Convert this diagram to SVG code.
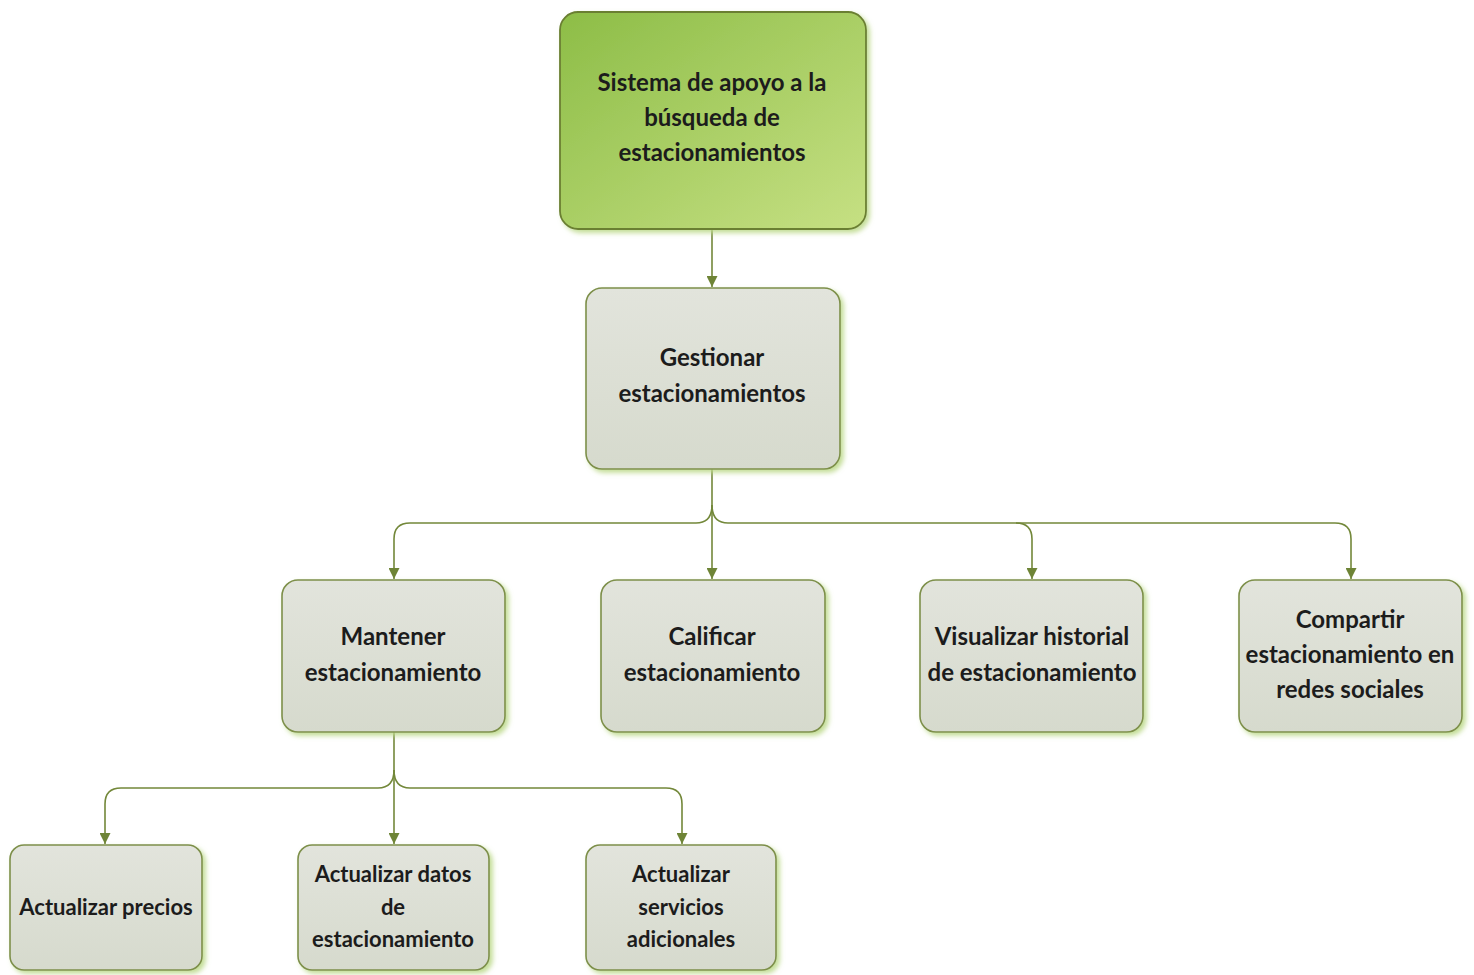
<svg xmlns="http://www.w3.org/2000/svg" width="1474" height="975" viewBox="0 0 1474 975">
  <defs>
    <linearGradient id="rootFill" x1="0" y1="0" x2="1" y2="1">
      <stop offset="0" stop-color="#8dbd47"/>
      <stop offset="1" stop-color="#c6e083"/>
    </linearGradient>
    <linearGradient id="nodeFill" x1="0" y1="0" x2="0" y2="1">
      <stop offset="0" stop-color="#e2e4dc"/>
      <stop offset="1" stop-color="#d6dacd"/>
    </linearGradient>
    <filter id="glow" x="-10%" y="-10%" width="125%" height="125%">
      <feGaussianBlur in="SourceAlpha" stdDeviation="2.5"/>
      <feOffset dx="3" dy="3" result="b"/>
      <feFlood flood-color="#bcd98a" flood-opacity="0.9"/>
      <feComposite in2="b" operator="in"/>
      <feMerge>
        <feMergeNode/>
        <feMergeNode in="SourceGraphic"/>
      </feMerge>
    </filter>
    <marker id="arrow" viewBox="0 0 10 10" refX="10" refY="5" markerWidth="11" markerHeight="11" markerUnits="userSpaceOnUse" orient="auto">
      <path d="M0,0 L10,5 L0,10 Z" fill="#6e8436"/>
    </marker>
  </defs>
  <style>
    .box { fill: url(#nodeFill); stroke: #7d8f4a; stroke-width: 1.6; filter: url(#glow); }
    .root { fill: url(#rootFill); stroke: #6b7f32; stroke-width: 1.8; filter: url(#glow); }
    .lbl { font-family: Lato, "Liberation Sans", sans-serif; font-size: 24px; font-weight: 700; fill: #1c1c1c; text-anchor: middle; }
    .sm { font-size: 22px; }
    .edge { fill: none; stroke: #73883a; stroke-width: 1.6; }
  </style>

  <rect width="1474" height="975" fill="#ffffff"/>

  <!-- connectors -->
  <g id="connectors">
    <path class="edge" marker-end="url(#arrow)" d="M712,229 V287"/>
    <path class="edge" marker-end="url(#arrow)" d="M712,469 V579"/>
    <path class="edge" marker-end="url(#arrow)" d="M712,505 Q712,523 696,523 H410 Q394,523 394,539 V579"/>
    <path class="edge" marker-end="url(#arrow)" d="M712,505 Q712,523 728,523 H1016 Q1032,523 1032,539 V579"/>
    <path class="edge" marker-end="url(#arrow)" d="M1016,523 H1335 Q1351,523 1351,539 V579"/>
    <path class="edge" marker-end="url(#arrow)" d="M394,732 V844"/>
    <path class="edge" marker-end="url(#arrow)" d="M394,770 Q394,788 378,788 H121 Q105,788 105,804 V844"/>
    <path class="edge" marker-end="url(#arrow)" d="M394,770 Q394,788 410,788 H666 Q682,788 682,804 V844"/>
  </g>

  <g id="root">
    <rect class="root" x="560" y="12" width="306" height="217" rx="18"/>
    <text class="lbl" x="712" y="91">Sistema de apoyo a la</text>
    <text class="lbl" x="712" y="126">búsqueda de</text>
    <text class="lbl" x="712" y="161">estacionamientos</text>
  </g>

  <g id="gestionar">
    <rect class="box" x="586" y="288" width="254" height="181" rx="16"/>
    <text class="lbl" x="712" y="366">Gestionar</text>
    <text class="lbl" x="712" y="402">estacionamientos</text>
  </g>

  <g id="mantener">
    <rect class="box" x="282" y="580" width="223" height="152" rx="16"/>
    <text class="lbl" x="393" y="645">Mantener</text>
    <text class="lbl" x="393" y="681">estacionamiento</text>
  </g>

  <g id="calificar">
    <rect class="box" x="601" y="580" width="224" height="152" rx="16"/>
    <text class="lbl" x="712" y="645">Calificar</text>
    <text class="lbl" x="712" y="681">estacionamiento</text>
  </g>

  <g id="visualizar">
    <rect class="box" x="920" y="580" width="223" height="152" rx="16"/>
    <text class="lbl" x="1032" y="645">Visualizar historial</text>
    <text class="lbl" x="1032" y="681">de estacionamiento</text>
  </g>

  <g id="compartir">
    <rect class="box" x="1239" y="580" width="223" height="152" rx="16"/>
    <text class="lbl" x="1350" y="628">Compartir</text>
    <text class="lbl" x="1350" y="663">estacionamiento en</text>
    <text class="lbl" x="1350" y="698">redes sociales</text>
  </g>

  <g id="precios">
    <rect class="box" x="10" y="845" width="192" height="125" rx="14"/>
    <text class="lbl sm" x="106" y="915">Actualizar precios</text>
  </g>

  <g id="datos">
    <rect class="box" x="298" y="845" width="191" height="125" rx="14"/>
    <text class="lbl sm" x="393" y="882">Actualizar datos</text>
    <text class="lbl sm" x="393" y="915">de</text>
    <text class="lbl sm" x="393" y="947">estacionamiento</text>
  </g>

  <g id="servicios">
    <rect class="box" x="586" y="845" width="190" height="125" rx="14"/>
    <text class="lbl sm" x="681" y="882">Actualizar</text>
    <text class="lbl sm" x="681" y="915">servicios</text>
    <text class="lbl sm" x="681" y="947">adicionales</text>
  </g>
</svg>
